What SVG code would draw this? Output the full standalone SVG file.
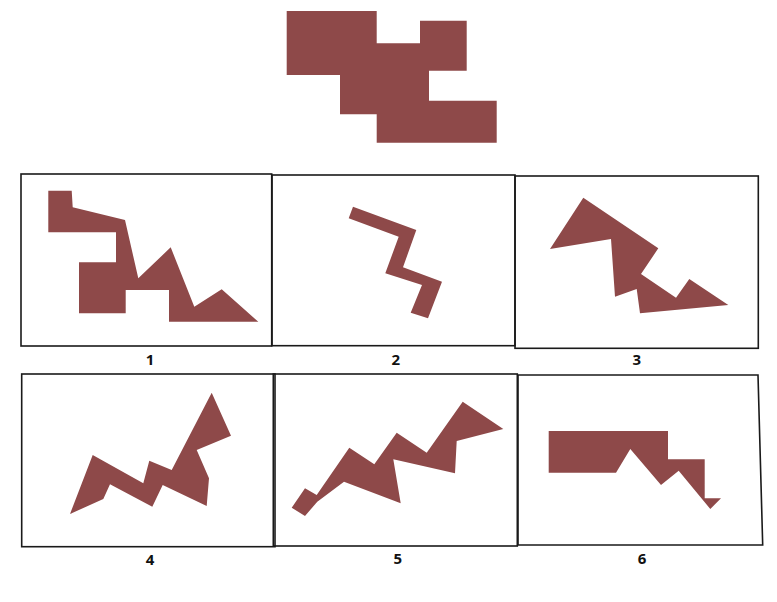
<svg xmlns="http://www.w3.org/2000/svg" width="777" height="602" viewBox="0 0 777 602">
<style>
.shape{fill:#8e4949;stroke:none}
.box{fill:none;stroke:#1a1a1a;stroke-width:1.6}
.lbl{font-family:"Open Sans","Liberation Sans",sans-serif;font-weight:bold;font-size:15px;fill:#111;text-anchor:middle}
</style>
<rect width="777" height="602" fill="#fff"/>
<g id="target">
<polygon class="shape" points="286.7,11 376.7,11 376.7,43.3 420,43.3 420,20.7 466.7,20.7 466.7,70.7 429,70.7 429,100.7 496.7,100.7 496.7,142.7 376.7,142.7 376.7,114.3 340,114.3 340,75 286.7,75"/>
</g>
<g id="option1">
<rect class="box" x="21" y="174" width="250.7" height="172"/>
<polygon class="shape" points="48.3,190.7 71.7,190.7 72.7,207.3 125,220 138.3,278.3 170.7,247.3 194.3,306.7 221.7,289.3 258.3,321.7 169,321.7 169,290 125.7,290 125.7,313.3 79,313.3 79,262.3 116,262.3 116,232.3 48.3,232.3"/>
<text class="lbl" x="150" y="365">1</text>
</g>
<g id="option2">
<rect class="box" x="272" y="175" width="243" height="170.7"/>
<polygon class="shape" points="353,206.7 416.3,230 403,267.3 442,281.7 428,318.3 410.7,312.7 422,285 385.3,273.3 398.7,236.7 348.7,218.3"/>
<text class="lbl" x="395.7" y="365">2</text>
</g>
<g id="option3">
<rect class="box" x="515" y="176" width="243.3" height="172.3"/>
<polygon class="shape" points="583.3,197.7 658.3,248.3 641,274 676,297.7 689.3,279 728.3,305 640,313.3 636.7,289 615,296.7 611,239 550,249"/>
<text class="lbl" x="636.7" y="365">3</text>
</g>
<g id="option4">
<rect class="box" x="21.7" y="374" width="253.3" height="172.7"/>
<polygon class="shape" points="70,514 92.7,455 143.3,483.3 149.3,460.7 171.7,470 211.7,392.7 231,435.7 196.7,450 209,478.3 206.7,506 162.7,485 152.3,506.7 110,484.3 103.3,499"/>
<text class="lbl" x="150" y="565">4</text>
</g>
<g id="option5">
<rect class="box" x="273.3" y="374" width="244" height="172"/>
<polygon class="shape" points="291.7,507.7 305,488.3 316.7,495 349.3,447.7 374.3,464.3 396.7,432.7 426.7,452.7 462.7,401.7 503.3,429 456.7,441 455,473.3 393.3,459.3 400.7,503.3 344,481.7 317.3,501.7 305,516"/>
<text class="lbl" x="397.7" y="564">5</text>
</g>
<g id="option6">
<polygon class="box" points="518,375 758,375 762.7,545 518,545"/>
<polygon class="shape" points="548.7,431 668,431 668,459.3 704.7,459.3 704.7,498.3 721,498.3 710.3,509 678.7,470.7 661,485 630.3,449 616,472.7 548.7,472.7"/>
<text class="lbl" x="642" y="564">6</text>
</g>
<g id="connectors"/>
</svg>
